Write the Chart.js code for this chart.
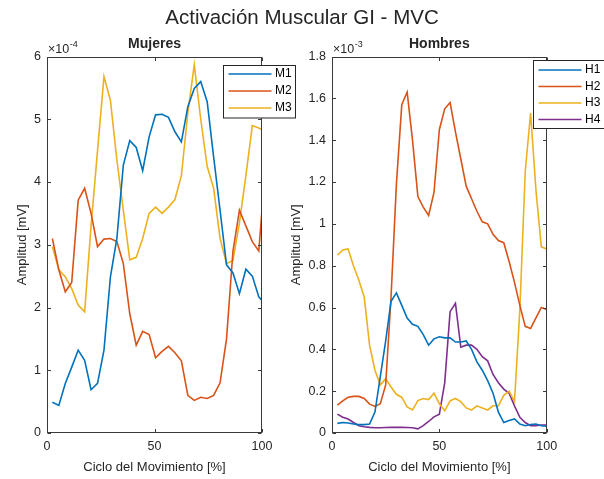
<!DOCTYPE html>
<html>
<head>
<meta charset="utf-8">
<script src="https://cdn.jsdelivr.net/npm/chart.js@4.4.1/dist/chart.umd.min.js"></script>
<style>
  html, body { margin: 0; padding: 0; background: #fff; }
  #fig { position: relative; width: 604px; height: 479px; overflow: hidden; }
  #fig canvas { position: absolute; top: 0; }
  #sup {
    position: absolute; left: 0; top: 5px; width: 604px; line-height: 22px;
    text-align: center; font: 20.5px "Liberation Sans", Arial, sans-serif; color: #262626;
  }
</style>
</head>
<body>
<div id="fig">
  <canvas id="cMujeres" width="302" height="479" style="left:0px"></canvas>
  <canvas id="cHombres" width="324" height="479" style="left:280px"></canvas>
  <div id="sup">Activación Muscular GI - MVC</div>
</div>
<script>
// Mujeres: amplitud x10^-4 mV
const cicloMujeres = [2.5, 5.5, 8.5, 11.5, 14.5, 17.5, 20.5, 23.5, 26.5, 29.5, 32.5, 35.5, 38.5, 41.5, 44.5, 47.5, 50.5,
  53.5, 56.5, 59.5, 62.5, 65.5, 68.5, 71.5, 74.5, 77.5, 80.5, 83.5, 86.5, 89.5, 92.5, 95.5, 98.5, 101.5];
const m1 = [0.49, 0.44, 0.79, 1.05, 1.32, 1.16, 0.69, 0.79, 1.32, 2.49, 3.10, 4.27, 4.66, 4.55, 4.18, 4.72, 5.07,
  5.08, 5.03, 4.80, 4.64, 5.20, 5.49, 5.60, 5.28, 4.40, 3.55, 2.68, 2.55, 2.22, 2.61, 2.50, 2.17, 2.05];
const m2 = [3.10, 2.60, 2.25, 2.40, 3.71, 3.90, 3.50, 2.97, 3.09, 3.10, 3.05, 2.70, 1.90, 1.40, 1.62, 1.57, 1.20,
  1.30, 1.38, 1.28, 1.15, 0.60, 0.52, 0.57, 0.55, 0.60, 0.80, 1.50, 2.90, 3.55, 3.30, 3.05, 2.90, 4.20];
const m3 = [2.97, 2.60, 2.49, 2.30, 2.04, 1.93, 3.30, 4.50, 5.68, 5.30, 4.35, 3.55, 2.76, 2.80, 3.10, 3.50, 3.60,
  3.50, 3.60, 3.72, 4.10, 5.10, 5.87, 5.00, 4.25, 3.90, 3.10, 2.70, 2.75, 3.35, 4.10, 4.90, 4.86, 4.80];

// Hombres: amplitud x10^-3 mV
const cicloHombres = [2.5, 5, 7.5, 10, 12.5, 15, 17.5, 20, 22.5, 25, 27.5, 30, 32.5, 35, 37.5, 40, 42.5, 45, 47.5, 50,
  52.5, 55, 57.5, 60, 62.5, 65, 67.5, 70, 72.5, 75, 77.5, 80, 82.5, 85, 87.5, 90, 92.5, 95, 97.5, 100];
const h1 = [0.046, 0.050, 0.048, 0.043, 0.040, 0.040, 0.043, 0.10, 0.27, 0.44, 0.63, 0.67, 0.61, 0.55, 0.52, 0.51, 0.47, 0.42, 0.45, 0.46,
  0.455, 0.455, 0.435, 0.435, 0.44, 0.40, 0.34, 0.30, 0.25, 0.19, 0.10, 0.05, 0.06, 0.067, 0.043, 0.035, 0.041, 0.043, 0.035, 0.032];
const h2 = [0.133, 0.154, 0.171, 0.175, 0.175, 0.165, 0.138, 0.127, 0.14, 0.23, 0.65, 1.19, 1.57, 1.63, 1.40, 1.13, 1.08, 1.04, 1.15, 1.45,
  1.55, 1.58, 1.44, 1.31, 1.18, 1.12, 1.06, 1.01, 1.00, 0.95, 0.92, 0.91, 0.82, 0.72, 0.61, 0.51, 0.50, 0.55, 0.60, 0.59];
const h3 = [0.85, 0.875, 0.88, 0.80, 0.73, 0.65, 0.42, 0.30, 0.23, 0.26, 0.22, 0.185, 0.17, 0.125, 0.11, 0.155, 0.165, 0.16, 0.19, 0.14,
  0.106, 0.154, 0.165, 0.15, 0.12, 0.11, 0.13, 0.12, 0.11, 0.13, 0.13, 0.18, 0.20, 0.15, 0.59, 1.25, 1.53, 1.16, 0.89, 0.88];
const h4 = [0.09, 0.075, 0.067, 0.05, 0.035, 0.03, 0.027, 0.025, 0.025, 0.026, 0.027, 0.027, 0.027, 0.026, 0.025, 0.02, 0.035, 0.055, 0.077, 0.09,
  0.24, 0.58, 0.62, 0.41, 0.42, 0.42, 0.40, 0.365, 0.345, 0.28, 0.24, 0.21, 0.19, 0.13, 0.075, 0.05, 0.035, 0.035, 0.038, 0.038];

const FONT = '"Liberation Sans", Arial, sans-serif';
const TEXT = '#262626';
const COLORS = ['#0072BD', '#D95319', '#EDB120', '#7E2F8E'];
Chart.defaults.font.family = FONT;

// box, inward ticks, subplot title, exponent and legend, MATLAB style
const matlabAxes = {
  id: 'matlabAxes',
  afterDraw(chart, args, opts) {
    const { ctx, chartArea: a } = chart;
    const x = chart.scales.x, y = chart.scales.y;
    const tl = 3.5;
    ctx.save();
    ctx.strokeStyle = '#3a3a3a';
    ctx.lineWidth = 1;
    const L = Math.round(a.left) + 0.5, R = Math.round(a.right) - 0.5;
    const T = Math.round(a.top) + 0.5, B = Math.round(a.bottom) - 0.5;
    ctx.strokeRect(L, T, R - L, B - T);
    ctx.beginPath();
    x.ticks.forEach(t => {
      const px = Math.round(x.getPixelForValue(t.value)) + 0.5;
      ctx.moveTo(px, B); ctx.lineTo(px, B - tl);
      ctx.moveTo(px, T); ctx.lineTo(px, T + tl);
    });
    y.ticks.forEach(t => {
      const py = Math.round(y.getPixelForValue(t.value)) + 0.5;
      ctx.moveTo(L, py); ctx.lineTo(L + tl, py);
      ctx.moveTo(R, py); ctx.lineTo(R - tl, py);
    });
    ctx.stroke();

    ctx.fillStyle = TEXT;
    ctx.font = 'bold 14px ' + FONT;
    ctx.textAlign = 'center';
    ctx.textBaseline = 'middle';
    ctx.fillText(opts.title, (a.left + a.right) / 2, 44.5);

    ctx.textAlign = 'left';
    ctx.textBaseline = 'alphabetic';
    ctx.font = '12.5px ' + FONT;
    ctx.fillText('\u00d710', a.left + 1, 53);
    const w = ctx.measureText('\u00d710').width;
    ctx.font = '9px ' + FONT;
    ctx.fillText(opts.exponent, a.left + 1.5 + w, 46.5);

    const lg = opts.legend;
    ctx.fillStyle = '#fff';
    ctx.fillRect(lg.x, lg.y, lg.w, lg.h);
    ctx.strokeStyle = '#262626';
    ctx.strokeRect(lg.x, lg.y, lg.w, lg.h);
    ctx.font = '12px ' + FONT;
    ctx.textBaseline = 'middle';
    chart.data.datasets.forEach((ds, i) => {
      const yy = lg.y + lg.first + i * lg.step;
      ctx.strokeStyle = ds.borderColor;
      ctx.lineWidth = 1.5;
      ctx.beginPath();
      ctx.moveTo(lg.x + 5, yy); ctx.lineTo(lg.x + 48, yy);
      ctx.stroke();
      ctx.fillStyle = '#000';
      ctx.fillText(ds.label, lg.x + 51.5, yy);
    });
    ctx.restore();
  }
};

function makeChart(id, ciclo, series, names, cfg) {
  return new Chart(document.getElementById(id), {
    type: 'line',
    data: {
      datasets: series.map((vals, i) => ({
        label: names[i],
        data: ciclo.map((c, j) => ({ x: c, y: vals[j] })),
        borderColor: COLORS[i],
        borderWidth: 1.6,
        pointRadius: 0,
        tension: 0,
        fill: false
      }))
    },
    options: {
      responsive: false,
      animation: false,
      devicePixelRatio: 1,
      layout: { padding: { left: cfg.padLeft, top: 56.5, right: cfg.padRight, bottom: 4.2 } },
      plugins: {
        legend: { display: false },
        tooltip: { enabled: false },
        matlabAxes: { title: cfg.title, exponent: cfg.exponent, legend: cfg.legend }
      },
      scales: {
        x: {
          type: 'linear', min: 0, max: 100,
          ticks: { stepSize: 50, padding: 6, maxRotation: 0, color: TEXT, font: { size: 12.5 } },
          grid: { display: false, drawTicks: false },
          border: { display: false },
          title: { display: true, text: 'Ciclo del Movimiento [%]', color: TEXT, font: { size: 13 }, padding: 0 },
          afterFit: s => { s.height = 41.8; }
        },
        y: {
          min: 0, max: cfg.yMax,
          ticks: {
            stepSize: cfg.yStep, padding: 6, color: TEXT, font: { size: 12.5 },
            callback: v => String(parseFloat(Number(v).toFixed(2)))
          },
          grid: { display: false, drawTicks: false },
          border: { display: false },
          title: { display: true, text: 'Amplitud [mV]', color: TEXT, font: { size: 13 }, padding: 0 },
          afterFit: s => { s.width = cfg.yWidth; }
        }
      }
    },
    plugins: [matlabAxes]
  });
}

makeChart('cMujeres', cicloMujeres, [m1, m2, m3], ['M1', 'M2', 'M3'], {
  title: 'Mujeres', exponent: '-4', yMax: 6, yStep: 1,
  padLeft: 14.2, yWidth: 32.8, padRight: 40,
  legend: { x: 223.5, y: 65.5, w: 72, h: 52.5, first: 8.5, step: 17 }
});

makeChart('cHombres', cicloHombres, [h1, h2, h3, h4], ['H1', 'H2', 'H3', 'H4'], {
  title: 'Hombres', exponent: '-3', yMax: 1.8, yStep: 0.2,
  padLeft: 8.2, yWidth: 43.8, padRight: 57.3,
  legend: { x: 253.5, y: 60.5, w: 90, h: 68, first: 9.5, step: 16.5 }
});
</script>
</body>
</html>
